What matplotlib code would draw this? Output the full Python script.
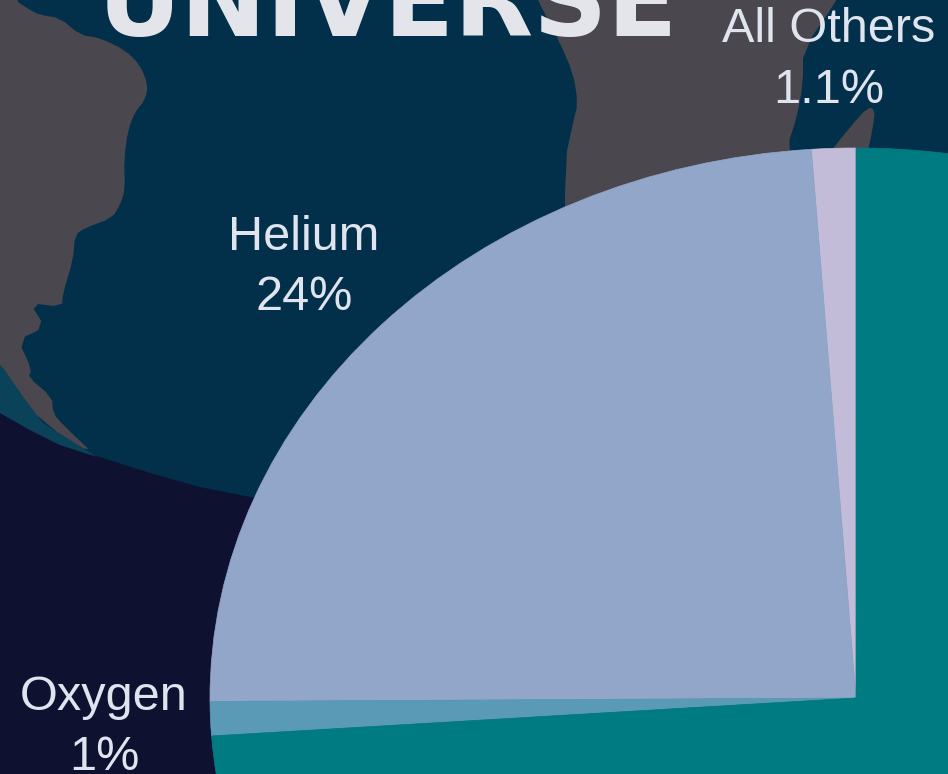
# Pie chart of the elements in the universe, on top of a globe background
import matplotlib
matplotlib.use("Agg")
import matplotlib.pyplot as plt
from matplotlib.patches import Polygon

W, H = 948, 774

names = ["All Others", "Helium", "Oxygen", "Hydrogen"]
values = [1.1, 24, 1, 73.9]
value_labels = ["1.1%", "24%", "1%", ""]
colors = ["#c3bcd8", "#92a6c9", "#5a9ab6", "#007b82"]

title = "UNIVERSE"

# label places in pixels: x centre, baseline of name, baseline of value
label_pos = [(829, 42, 103), (304, 250, 310), (104, 710, 770)]

# background shapes in pixels, they run past the edges so the softening leaves no gap
ocean = [(0, 0), (948, 0), (948, 520), (400, 520), (250, 497), (200, 487), (150, 473),
         (100, 457), (60, 445), (30, 430), (0, 413)]
limb = [(-30, 330), (0, 363), (20, 393), (43, 423), (97, 457), (60, 445), (30, 430), (0, 413),
        (-30, 395)]
south_america = [(-60, -60), (5, -30), (15, 0), (30, 10), (40, 15), (60, 18), (80, 35), (100, 38),
                 (125, 50), (140, 65), (148, 85), (145, 100), (135, 112), (128, 130), (124, 160),
                 (125, 190), (120, 205), (112, 218), (85, 228), (75, 235), (73, 260),
                 (63, 293), (62, 307), (30, 303), (45, 327), (18, 340), (32, 370), (28, 377),
                 (52, 397), (53, 413), (63, 425), (97, 457), (43, 423), (20, 393), (0, 363),
                 (-60, 300)]
africa = [(520, -40), (538, 0), (548, 20), (560, 43), (573, 73), (578, 103), (573, 123), (565, 160),
          (565, 290), (800, 290), (787, 147), (797, 117), (803, 83), (803, 50), (837, 0),
          (860, -40)]
madagascar = [(875, 110), (868, 107), (850, 127), (820, 165), (865, 165), (873, 127)]


def soften(points):  # one pass of corner cutting, the outlines are blurry in the picture
    res = []
    for i in range(len(points)):
        x0, y0 = points[i]
        x1, y1 = points[(i + 1) % len(points)]
        res.append((0.75 * x0 + 0.25 * x1, 0.75 * y0 + 0.25 * y1))
        res.append((0.25 * x0 + 0.75 * x1, 0.25 * y0 + 0.75 * y1))
    return res


fig = plt.figure(figsize=(W / 100, H / 100), dpi=100, facecolor="#0e112f")

bg = fig.add_axes([0, 0, 1, 1])
bg.set_xlim(0, W)
bg.set_ylim(H, 0)
bg.axis("off")
bg.add_patch(Polygon(ocean, fc="#02304b", ec="none"))
bg.add_patch(Polygon(limb, fc="#0a4259", ec="none"))
for shape in [south_america, africa, madagascar]:
    bg.add_patch(Polygon(soften(shape), fc="#4a474e", ec="none"))

bg.text(388, 36, title, color="#e4e5ea", fontsize=74, fontweight="bold",
        family="DejaVu Sans", ha="center", va="baseline")

for i in range(3):
    x, y1, y2 = label_pos[i]
    bg.text(x, y1, names[i], color="#dfe4ee", fontsize=35, family="Liberation Sans",
            ha="center", va="baseline")
    bg.text(x, y2, value_labels[i], color="#dfe4ee", fontsize=35, family="Liberation Sans",
            ha="center", va="baseline")

# pie is stretched in the picture: radius 646 px across, 550 px up
cx, cy, rx, ry = 856, 698, 646, 550
ax = fig.add_axes([0, 0, 1, 1], facecolor="none")
wedges, _ = ax.pie(values, colors=colors, startangle=90, counterclock=True)
for w in wedges:
    w.set_edgecolor(w.get_facecolor())
    w.set_linewidth(0.5)
ax.set_aspect("auto")
ax.set_xlim(-cx / rx, (W - cx) / rx)
ax.set_ylim(-(H - cy) / ry, cy / ry)

fig.savefig("out.png", dpi=100, facecolor=fig.get_facecolor())
